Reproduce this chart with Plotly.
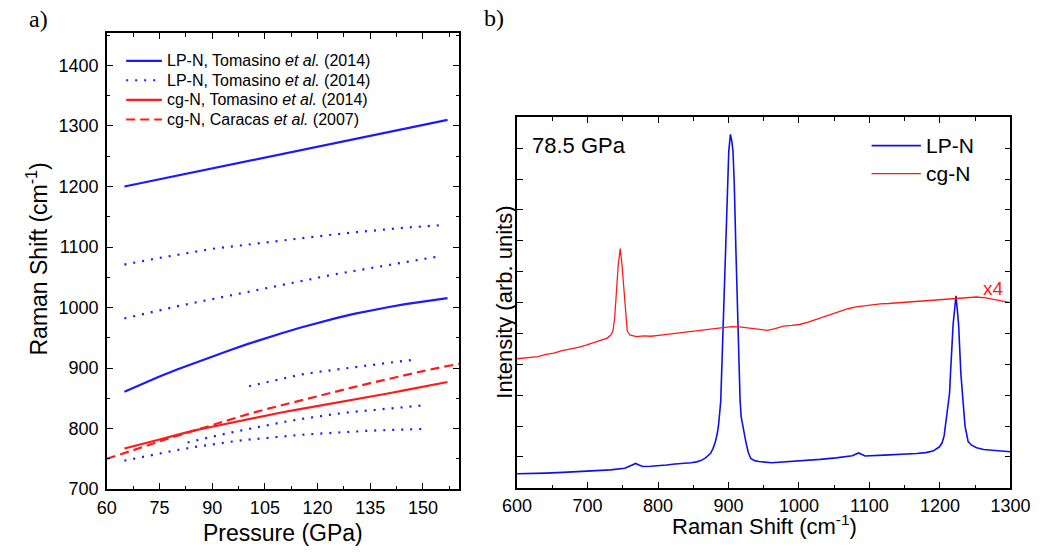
import plotly.graph_objects as go

# ---------------- Panel a) data: Raman shift vs pressure ----------------
p_lp_solid_hi = [65, 80, 95, 110, 125, 140, 157]
v_lp_solid_hi = [1200, 1218, 1236, 1254, 1272, 1290, 1310]

p_lp_solid_lo = [65, 70, 75, 80, 85, 90, 95, 100, 105, 110, 115, 120, 125, 130, 135, 140, 145, 150, 155, 157]
v_lp_solid_lo = [861, 874, 886, 897.5, 908.5, 919, 929.5, 939.5, 949, 958, 966.5, 974.5, 982, 989, 995,
                 1000.5, 1005.5, 1010, 1014, 1015.5]

p_lp_dot1 = [65, 70, 75, 80, 85, 90, 95, 100, 105, 110, 115, 120, 125, 130, 135, 140, 145, 150, 155]
v_lp_dot1 = [1071, 1077, 1082, 1087, 1092, 1097, 1100.5, 1104, 1108, 1111.5, 1115, 1118, 1121, 1124, 1127,
             1129.5, 1132, 1134, 1136]

p_lp_dot2 = [65, 70, 75, 80, 85, 90, 95, 100, 105, 110, 115, 120, 125, 130, 135, 140, 145, 150, 155]
v_lp_dot2 = [982, 989, 996, 1002, 1008, 1014, 1020, 1026, 1032, 1038, 1044, 1049, 1055, 1060, 1065,
             1070, 1075, 1080, 1085]

p_lp_dot3 = [100.5, 105, 110, 115, 120, 125, 130, 135, 140, 145, 148.5]
v_lp_dot3 = [870, 876, 882.5, 889, 893.5, 897.5, 901.5, 905, 908.5, 912, 914.5]

p_lp_dot4 = [83, 85, 90, 95, 100, 105, 110, 115, 120, 125, 130, 135, 140, 145, 149.5]
v_lp_dot4 = [777, 780, 786.5, 793, 799, 805, 810.5, 815.5, 820, 824, 827.5, 830.5, 833.5, 836, 838]

p_lp_dot5 = [65, 70, 75, 80, 85, 90, 95, 100, 105, 110, 115, 120, 125, 130, 135, 140, 145, 150.5]
v_lp_dot5 = [747, 753, 759, 764.5, 769.5, 774, 778, 781.5, 784.5, 787, 789.5, 791.5, 793.5, 795, 796.5,
             797.5, 798.5, 799.5]

p_cg_tom = [65, 70, 75, 80, 85, 90, 95, 100, 105, 110, 115, 120, 125, 130, 135, 140, 145, 150, 155, 157]
v_cg_tom = [767, 775, 782, 789.5, 797, 803, 809, 815.5, 821, 827, 832, 837, 842, 847, 852, 858, 863.5,
            869, 874.5, 877]

p_cg_car = [60, 65, 70, 75, 80, 85, 90, 95, 100, 105, 110, 115, 120, 125, 130, 135, 140, 145, 150, 155, 160, 162]
v_cg_car = [750, 759, 769, 779, 788, 797, 806, 815, 823.5, 831.5, 839, 846.5, 853.5, 861, 868, 875, 882,
            889, 895, 901, 907, 909]

legend_a_labels = ["LP-N, Tomasino <i>et al.</i> (2014)", "LP-N, Tomasino <i>et al.</i> (2014)",
                   "cg-N, Tomasino <i>et al.</i> (2014)", "cg-N, Caracas <i>et al.</i> (2007)"]

# ---------------- Panel b) data: Raman spectra at 78.5 GPa ----------------
shift_lp = [600, 620, 641, 665, 687, 710, 732.6, 753, 762, 768.3, 773, 778.3, 790, 801.2, 812, 824, 835, 847,
            855, 860.7, 867, 874.4, 878, 881.3, 884, 885.8, 889, 891.3, 893.5, 895.9, 898.1, 900.4, 902.7,
            904.6, 906.4, 908.2, 910.5, 912.2, 914.1, 916.4, 918, 920, 924.7, 928, 931.6, 937, 943, 961.3,
            985, 1007, 1030, 1052.7, 1075.6, 1084.6, 1093.9, 1121, 1145, 1167, 1180, 1190, 1199, 1203, 1206,
            1210.5, 1213.7, 1215, 1218.7, 1222.8, 1226.5, 1229.7, 1232, 1235.6, 1240, 1245, 1252, 1262, 1278,
            1300]
int_lp = [0.455, 0.46, 0.476, 0.50, 0.52, 0.55, 0.58, 0.635, 0.72, 0.79, 0.74, 0.69, 0.70, 0.71, 0.74, 0.77,
          0.78, 0.81, 0.84, 0.88, 0.96, 1.11, 1.27, 1.48, 1.75, 2.01, 2.8, 4.55, 6.1, 7.72, 9.84, 10.9, 11.45,
          11.25, 10.9, 9.84, 7.72, 6.1, 4.55, 2.86, 2.3, 2.01, 1.48, 1.15, 0.95, 0.88, 0.85, 0.81, 0.84, 0.87,
          0.92, 0.97, 1.04, 1.13, 1.03, 1.06, 1.08, 1.11, 1.14, 1.19, 1.32, 1.45, 1.69, 2.43, 3.07, 3.7, 5.29,
          6.22, 5.29, 3.7, 3.0, 2.0, 1.5, 1.38, 1.3, 1.24, 1.21, 1.17]

shift_cg = [600, 610, 618.3, 630, 641.2, 652, 664, 675, 687, 698, 709.8, 720, 728, 733, 736, 738.5, 741,
            743.5, 746.4, 749, 751.9, 754, 756.4, 760, 769.2, 780, 790, 801.2, 812, 824, 835, 846.9, 858,
            869.8, 881, 892.6, 904, 915.5, 932.5, 944, 955.3, 966, 978.2, 990, 1001, 1012, 1024, 1035, 1046.8,
            1058, 1069.6, 1081, 1092.5, 1104, 1115.4, 1127, 1138.2, 1150, 1161, 1172, 1184, 1195, 1206.8,
            1218, 1229.7, 1240, 1252, 1265, 1280, 1290, 1300]
int_cg = [4.18, 4.20, 4.23, 4.25, 4.32, 4.36, 4.44, 4.49, 4.55, 4.62, 4.71, 4.78, 4.85, 4.95, 5.08, 5.5,
          6.35, 7.2, 7.75, 7.2, 6.35, 5.6, 5.08, 4.95, 4.90, 4.92, 4.91, 4.94, 4.97, 4.99, 5.02, 5.06, 5.09,
          5.13, 5.17, 5.19, 5.22, 5.21, 5.16, 5.14, 5.10, 5.16, 5.24, 5.26, 5.29, 5.36, 5.45, 5.54, 5.63,
          5.72, 5.80, 5.86, 5.90, 5.93, 5.96, 5.97, 5.99, 6.01, 6.03, 6.06, 6.08, 6.10, 6.12, 6.14, 6.16,
          6.17, 6.18, 6.15, 6.08, 6.05, 6.0]

legend_b_labels = ["LP-N", "cg-N"]

BLUE = "#1a1aff"
RED = "#ff1a1a"
FONT = "Arial, Liberation Sans, sans-serif"
SERIF = "Times New Roman, Liberation Serif, serif"
DOT = "2px,7px"
DASH = "9px,5px"
W, H = 1054, 558


def px_x(p):
    return p / W


def px_y(p):
    return 1 - p / H


fig = go.Figure()


def add_left(x, y, color, dash, name):
    fig.add_trace(go.Scatter(x=x, y=y, mode="lines", line=dict(color=color, width=2.2, dash=dash),
                             name=name, showlegend=False, xaxis="x", yaxis="y", hoverinfo="skip"))


add_left(p_lp_solid_hi, v_lp_solid_hi, BLUE, "solid", legend_a_labels[0])
add_left(p_lp_dot1, v_lp_dot1, BLUE, DOT, legend_a_labels[1])
add_left(p_cg_tom, v_cg_tom, RED, "solid", legend_a_labels[2])
add_left(p_cg_car, v_cg_car, RED, DASH, legend_a_labels[3])
add_left(p_lp_solid_lo, v_lp_solid_lo, BLUE, "solid", legend_a_labels[0])
add_left(p_lp_dot2, v_lp_dot2, BLUE, DOT, legend_a_labels[1])
add_left(p_lp_dot3, v_lp_dot3, BLUE, DOT, legend_a_labels[1])
add_left(p_lp_dot4, v_lp_dot4, BLUE, DOT, legend_a_labels[1])
add_left(p_lp_dot5, v_lp_dot5, BLUE, DOT, legend_a_labels[1])

fig.add_trace(go.Scatter(x=shift_lp, y=int_lp, mode="lines", line=dict(color="#1010ee", width=1.6),
                         name=legend_b_labels[0], showlegend=False, xaxis="x2", yaxis="y2", hoverinfo="skip"))
fig.add_trace(go.Scatter(x=shift_cg, y=int_cg, mode="lines", line=dict(color=RED, width=1.3),
                         name=legend_b_labels[1], showlegend=False, xaxis="x2", yaxis="y2", hoverinfo="skip"))

axis_common = dict(showline=True, linecolor="black", linewidth=1.5, mirror="ticks", ticks="inside",
                   tickwidth=1.4, tickcolor="black", showgrid=False, zeroline=False,
                   tickfont=dict(family=FONT, size=18, color="black"))

fig.update_layout(
    width=W, height=H, margin=dict(l=0, r=0, t=0, b=0),
    paper_bgcolor="white", plot_bgcolor="white", showlegend=False,
    font=dict(family=FONT, color="black"),
    xaxis=dict(domain=[px_x(95), px_x(459)], range=[60, 160.2], anchor="y", tickmode="linear", tick0=60,
               dtick=15, ticklen=6, ticklabelstandoff=2,
               minor=dict(ticks="inside", ticklen=3.5, tick0=60, dtick=7.5, tickcolor="black", tickwidth=1.4),
               **axis_common),
    yaxis=dict(domain=[px_y(498), px_y(34)], range=[700, 1453], anchor="x", tickmode="linear", tick0=700,
               dtick=100, ticklen=6, ticklabelstandoff=3,
               minor=dict(ticks="inside", ticklen=3.5, tick0=700, dtick=50, tickcolor="black", tickwidth=1.4),
               **axis_common),
    xaxis2=dict(domain=[px_x(519.3), px_x(1029.6)], range=[600, 1300], anchor="y2", tickmode="linear",
                tick0=600, dtick=100, ticklen=6, ticklabelstandoff=1,
                minor=dict(ticks="inside", ticklen=3.5, tick0=600, dtick=50, tickcolor="black", tickwidth=1.4),
                **axis_common),
    yaxis2=dict(domain=[px_y(496.7), px_y(119.5)], range=[0, 12], anchor="x2", tickmode="linear", tick0=0,
                dtick=1, ticklen=6, showticklabels=False, **axis_common),
)

# ---- legend of panel a) (samples + labels) ----
leg_a_style = [(BLUE, "solid"), (BLUE, DOT), (RED, "solid"), (RED, DASH)]
leg_a_y = [62, 81.7, 101.7, 121.7]
for (col, dsh), yy, lab in zip(leg_a_style, leg_a_y, legend_a_labels):
    fig.add_shape(type="line", xref="paper", yref="paper", x0=px_x(115), x1=px_x(152),
                  y0=px_y(yy), y1=px_y(yy), line=dict(color=col, width=2.2, dash=dsh))
    fig.add_annotation(text=lab, x=px_x(155), y=px_y(yy), xref="paper", yref="paper", showarrow=False,
                       xanchor="left", yanchor="middle", font=dict(family=FONT, size=16, color="black"))

# ---- legend of panel b) ----
leg_b_style = [("#1010ee", 1.6), (RED, 1.3)]
leg_b_y = [148.3, 176.7]
for (col, wd), yy, lab in zip(leg_b_style, leg_b_y, legend_b_labels):
    fig.add_shape(type="line", xref="paper", yref="paper", x0=px_x(886), x1=px_x(937),
                  y0=px_y(yy), y1=px_y(yy), line=dict(color=col, width=wd))
    fig.add_annotation(text=lab, x=px_x(940), y=px_y(yy), xref="paper", yref="paper", showarrow=False,
                       xanchor="left", yanchor="middle", font=dict(family=FONT, size=21, color="black"))

ann = [
    dict(text="a)", x=px_x(24), y=px_y(19), font=dict(family=SERIF, size=24)),
    dict(text="b)", x=px_x(495), y=px_y(18), font=dict(family=SERIF, size=24)),
    dict(text="Raman Shift (cm<sup>-1</sup>)", x=px_x(23), y=px_y(264), textangle=-90, font=dict(family=FONT, size=23)),
    dict(text="Pressure (GPa)", x=px_x(277), y=px_y(543), font=dict(family=FONT, size=23)),
    dict(text="Raman Shift (cm<sup>-1</sup>)", x=px_x(775), y=px_y(535), font=dict(family=FONT, size=22)),
    dict(text="Intensity (arb. units)", x=px_x(506), y=px_y(308), textangle=-90, font=dict(family=FONT, size=22)),
]
for a in ann:
    a.update(xref="paper", yref="paper", showarrow=False, xanchor="center", yanchor="middle")
    fig.add_annotation(**a)

fig.add_annotation(text="78.5 GPa", x=619, y=11.09, xref="x2", yref="y2", showarrow=False, xanchor="left",
                   yanchor="middle", font=dict(family=FONT, size=22, color="black"))
fig.add_annotation(text="x4", x=1276, y=6.45, xref="x2", yref="y2", showarrow=False, xanchor="center",
                   yanchor="middle", font=dict(family=FONT, size=19, color=RED))

fig.write_html("out.html", config={"displayModeBar": False},
               post_script="document.body.style.margin='0px';document.body.style.overflow='hidden';")
